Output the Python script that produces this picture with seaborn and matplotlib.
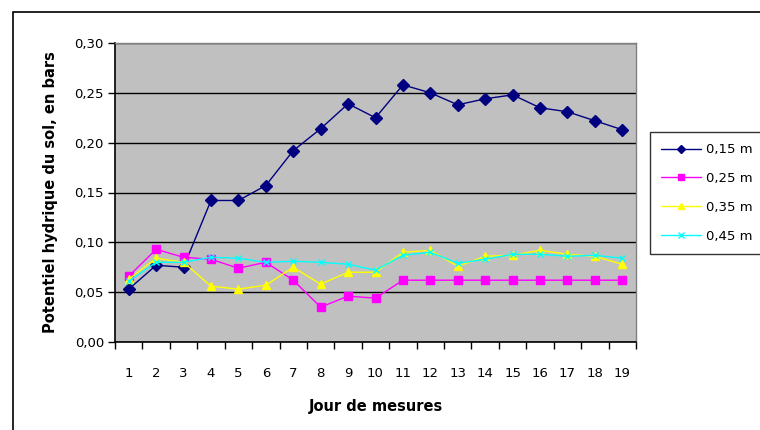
import matplotlib
matplotlib.use("Agg")
import matplotlib.pyplot as plt
import seaborn as sns
import pandas as pd
from matplotlib.patches import Rectangle
from matplotlib.ticker import FixedLocator, FuncFormatter

jours = list(range(1, 20))
s015 = [0.053, 0.077, 0.075, 0.142, 0.142, 0.157, 0.192, 0.214, 0.239, 0.225,
        0.258, 0.250, 0.238, 0.244, 0.248, 0.235, 0.231, 0.222, 0.213]
s025 = [0.066, 0.093, 0.085, 0.083, 0.074, 0.080, 0.062, 0.035, 0.046, 0.044,
        0.062, 0.062, 0.062, 0.062, 0.062, 0.062, 0.062, 0.062, 0.062]
s035 = [0.063, 0.084, 0.080, 0.056, 0.053, 0.057, 0.075, 0.058, 0.070, 0.070,
        0.090, 0.092, 0.076, 0.086, 0.087, 0.092, 0.088, 0.086, 0.078]
s045 = [0.061, 0.080, 0.080, 0.085, 0.084, 0.080, 0.081, 0.080, 0.078, 0.072,
        0.087, 0.090, 0.079, 0.083, 0.088, 0.088, 0.086, 0.087, 0.084]
series_names = ["0,15 m", "0,25 m", "0,35 m", "0,45 m"]
colors = ["#000080", "#FF00FF", "#FFFF00", "#00FFFF"]
marker_list = ["D", "s", "^", "x"]

sns.set_theme(style="white")
plt.rcParams["font.family"] = ["DejaVu Sans"]
plt.rcParams["text.color"] = "black"
plt.rcParams["axes.labelcolor"] = "black"
plt.rcParams["xtick.color"] = "black"
plt.rcParams["ytick.color"] = "black"

fig = plt.figure(figsize=(7.6, 4.3), dpi=100)
W, H = 760, 430
ax = fig.add_axes([115 / W, 1 - 342 / H, (636 - 115) / W, (342 - 43) / H])
ax.set_facecolor("#C0C0C0")

for name, vals, c, m in zip(series_names, [s015, s025, s035, s045], colors, marker_list):
    d = pd.DataFrame({"Jour": jours, "Valeur": vals})
    sns.lineplot(data=d, x="Jour", y="Valeur", color=c, marker=m, label=name,
                 linewidth=1.0, markersize=6 if m != "x" else 5,
                 markeredgewidth=1.0, markeredgecolor=c, markerfacecolor=c, ax=ax)

ax.set_xlim(0.5, 19.5)
ax.set_ylim(0, 0.30)
ax.set_yticks([0, 0.05, 0.10, 0.15, 0.20, 0.25, 0.30])
ax.yaxis.set_major_formatter(FuncFormatter(lambda v, p: f"{v:.2f}".replace(".", ",")))
ax.grid(axis="y", color="black", linewidth=1.0)
ax.set_axisbelow(True)

ax.xaxis.set_major_locator(FixedLocator([x + 0.5 for x in range(0, 20)]))
ax.xaxis.set_major_formatter(FuncFormatter(lambda v, p: ""))
ax.xaxis.set_minor_locator(FixedLocator(jours))
ax.xaxis.set_minor_formatter(FuncFormatter(lambda v, p: f"{int(round(v))}"))
ax.tick_params(axis="x", which="major", direction="out", length=5, width=1, color="black", bottom=True)
ax.tick_params(axis="x", which="minor", length=0, labelsize=9.5, pad=18, bottom=True, labelcolor="black")
ax.tick_params(axis="y", direction="out", length=5, width=1, color="black", labelsize=9.5, pad=3, left=True, labelcolor="black")

for side in ["top", "right"]:
    ax.spines[side].set_color("#808080")
    ax.spines[side].set_linewidth(1.0)
for side in ["left", "bottom"]:
    ax.spines[side].set_color("black")
    ax.spines[side].set_linewidth(1.2)

ax.set_xlabel("Jour de mesures", fontsize=10.5, fontweight="bold", labelpad=14, color="black")
ax.set_ylabel("Potentiel hydrique du sol, en bars", fontsize=10.5, fontweight="bold", labelpad=12, color="black")

leg = ax.legend(loc="upper left", bbox_to_anchor=(650 / W, 1 - 132 / H),
                bbox_transform=fig.transFigure, frameon=True, fancybox=False,
                fontsize=9.5, handlelength=3.0, borderpad=0.85, labelspacing=1.2,
                handletextpad=0.4, borderaxespad=0)
leg.get_frame().set_edgecolor("black")
leg.get_frame().set_linewidth(1.0)
for lh in leg.get_lines():
    lh.set_markersize(4.5)
for t in leg.get_texts():
    t.set_color("black")

fig.patches.append(Rectangle((13 / W, -0.1), 1.2, 1 - 12 / H + 0.1, transform=fig.transFigure,
                             fill=False, edgecolor="black", linewidth=1.2))

fig.savefig("out.png", dpi=100)
